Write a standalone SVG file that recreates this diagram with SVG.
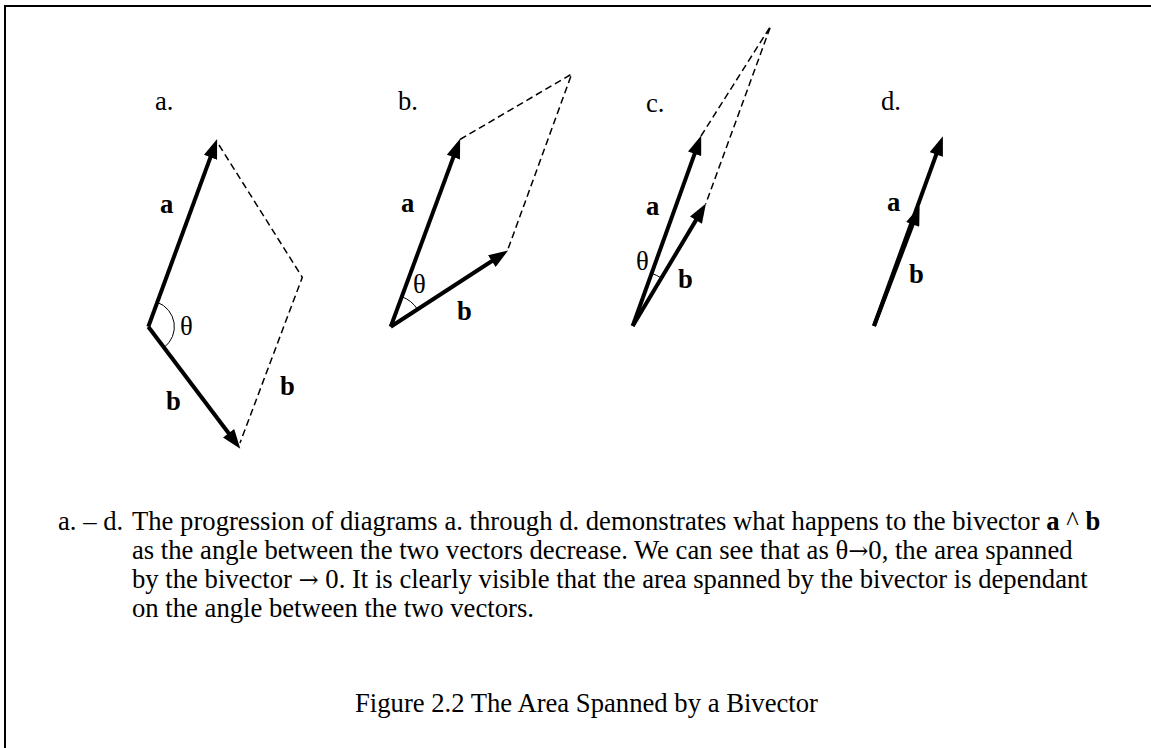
<svg xmlns="http://www.w3.org/2000/svg" width="1151" height="748" viewBox="0 0 1151 748">
<defs>
<marker id="arr" markerUnits="userSpaceOnUse" markerWidth="20" markerHeight="14" viewBox="0 0 18 13" refX="12" refY="6.5" orient="auto">
<path d="M0,0 L18,6.5 L0,13 Z" fill="#000"/>
</marker>
</defs>
<style>
text{font-family:"Liberation Serif","Times New Roman",serif;font-size:26.67px;fill:#000}
.bd{font-weight:bold}
.ar{font-family:"DejaVu Serif",serif;font-size:24px}
.vec{stroke:#000;stroke-width:4;fill:none;marker-end:url(#arr)}
.dash{stroke:#000;stroke-width:1.5;fill:none;stroke-dasharray:7 4}
.arc{stroke:#000;stroke-width:1;fill:none}
</style>
<rect width="1151" height="748" fill="#fff"/>
<path d="M5,748 V6 H1151" fill="none" stroke="#000" stroke-width="2"/>

<g id="panel-a">
<text x="155" y="110">a.</text>
<text class="bd" x="160" y="213">a</text>
<text class="bd" x="166" y="410">b</text>
<text class="bd" x="280" y="395">b</text>
<text x="180" y="335">θ</text>
<path class="arc" d="M157.3,302.3 A26,26 0 0 1 164,347.5"/>
</g>
<g id="panel-b">
<text x="398" y="110">b.</text>
<text class="bd" x="401" y="212">a</text>
<text class="bd" x="457" y="320">b</text>
<text x="413" y="293">θ</text>
<path class="arc" d="M401.8,296.7 A32,32 0 0 1 417.5,309.3"/>
</g>
<g id="panel-c">
<text x="646" y="112">c.</text>
<text class="bd" x="646" y="215">a</text>
<text class="bd" x="678" y="288">b</text>
<text x="636" y="270">θ</text>
<path class="arc" d="M651.6,273.3 A56,56 0 0 1 661.4,278"/>
</g>
<g id="panel-d">
<text x="881" y="110">d.</text>
<text class="bd" x="887" y="211">a</text>
<text class="bd" x="909" y="283">b</text>
</g>

<g id="connectors">
<line class="vec" x1="148.3" y1="326.7" x2="214.9" y2="145.1"/>
<line class="vec" x1="148.3" y1="326.7" x2="236.4" y2="443.5"/>
<path class="dash" d="M219,145 L302.3,277.3 L240,443"/>

<line class="vec" x1="390.7" y1="326.7" x2="457.9" y2="144.9"/>
<line class="vec" x1="390.7" y1="326.7" x2="502.7" y2="254"/>
<path class="dash" d="M460,139.5 L571.7,74 L507.5,250.5"/>

<line class="vec" x1="632.7" y1="326" x2="699" y2="141.6"/>
<line class="vec" x1="632.7" y1="326" x2="702.6" y2="209.1"/>
<path class="dash" d="M701,136 L770.7,26 L705.7,204"/>

<line class="vec" x1="874" y1="326" x2="940.7" y2="142.3"/>
<line class="vec" x1="874" y1="326" x2="917.3" y2="212.3"/>
</g>

<g id="caption">
<text y="530"><tspan x="58">a. – d.</tspan><tspan x="132">The progression of diagrams a. through d. demonstrates what happens to the bivector </tspan><tspan class="bd">a</tspan> ^ <tspan class="bd">b</tspan></text>
<text x="132" y="559">as the angle between the two vectors decrease. We can see that as θ<tspan class="ar">→</tspan>0, the area spanned</text>
<text x="132" y="588">by the bivector <tspan class="ar">→</tspan> 0. It is clearly visible that the area spanned by the bivector is dependant</text>
<text x="132" y="617">on the angle between the two vectors.</text>
<text x="355" y="712">Figure 2.2 The Area Spanned by a Bivector</text>
</g>
</svg>
